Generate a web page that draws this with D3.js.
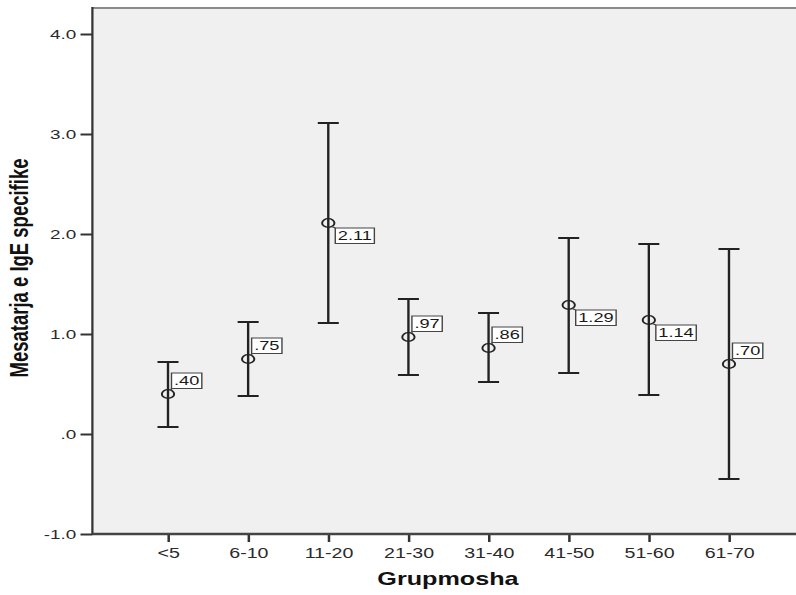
<!DOCTYPE html>
<html>
<head>
<meta charset="utf-8">
<script src="https://cdn.jsdelivr.net/npm/d3@7"></script>
<style>
  html, body { margin: 0; padding: 0; background: #fff; }
  svg { display: block; }
  text { font-family: "Liberation Sans", Arial, sans-serif; }
</style>
</head>
<body>
<svg id="chart" width="796" height="595"></svg>
<script>
// Age groups and the mean specific IgE with its error-bar limits
const categories = ["<5", "6-10", "11-20", "21-30", "31-40", "41-50", "51-60", "61-70"];
const means      = [0.40, 0.75, 2.11, 0.97, 0.86, 1.29, 1.14, 0.70];
const lowers     = [0.07, 0.38, 1.11, 0.59, 0.52, 0.61, 0.39, -0.45];
const uppers     = [0.72, 1.12, 3.11, 1.35, 1.21, 1.96, 1.90, 1.85];
const yTicks     = [-1, 0, 1, 2, 3, 4];
const yTickLabels = ["-1.0", ".0", "1.0", "2.0", "3.0", "4.0"];
const meanLabels = [".40", ".75", "2.11", ".97", ".86", "1.29", "1.14", ".70"];

// The chart is drawn in a narrower frame and widened horizontally
const SX = 1.4;
const plot = { left: 66, right: 580, top: 7, bottom: 534 };

const svg = d3.select("#chart");
const g = svg.append("g").attr("transform", `scale(${SX},1)`);

const y = d3.scaleLinear().domain([-1, 4]).range([534, 34]);
const x = d3.scalePoint().domain(categories).range([120, 520.7]);

// Plot background and frame
g.append("rect")
  .attr("x", plot.left).attr("y", plot.top)
  .attr("width", plot.right - plot.left).attr("height", plot.bottom - plot.top)
  .attr("fill", "#f0f0f0");
g.append("line")
  .attr("x1", plot.left).attr("x2", plot.right)
  .attr("y1", plot.top + 1).attr("y2", plot.top + 1)
  .attr("stroke", "#8a8a8a").attr("stroke-width", 2);

// Y axis
const yAxis = g.append("g").attr("transform", `translate(${plot.left},0)`)
  .call(d3.axisLeft(y).tickValues(yTicks).tickSize(8.5).tickPadding(3)
    .tickFormat((d, i) => yTickLabels[i]));
yAxis.select(".domain").remove();
yAxis.selectAll(".tick line").attr("stroke", "#333").attr("stroke-width", 2);
yAxis.selectAll(".tick text").attr("font-size", 13.5).attr("fill", "#2a2a2a")
  .attr("font-family", "Liberation Sans, Arial, sans-serif");
g.append("line")
  .attr("x1", plot.left).attr("x2", plot.left)
  .attr("y1", plot.top).attr("y2", plot.bottom + 1)
  .attr("stroke", "#333").attr("stroke-width", 1.6);

// X axis
const xAxis = g.append("g").attr("transform", `translate(0,${plot.bottom})`)
  .call(d3.axisBottom(x).tickSize(8).tickPadding(6));
xAxis.select(".domain").remove();
xAxis.selectAll(".tick line").attr("stroke", "#333").attr("stroke-width", 1.8);
xAxis.selectAll(".tick text").attr("font-size", 14).attr("fill", "#2a2a2a")
  .attr("font-family", "Liberation Sans, Arial, sans-serif");
g.append("line")
  .attr("x1", plot.left).attr("x2", plot.right)
  .attr("y1", plot.bottom).attr("y2", plot.bottom)
  .attr("stroke", "#444").attr("stroke-width", 2.5);

// Error bars
const rows = categories.map((c, i) => ({ c, m: means[i], lo: lowers[i], hi: uppers[i], label: meanLabels[i] }));
const bars = g.append("g").selectAll("g").data(rows).join("g");
bars.append("line")
  .attr("x1", d => x(d.c)).attr("x2", d => x(d.c))
  .attr("y1", d => y(d.hi)).attr("y2", d => y(d.lo))
  .attr("stroke", "#222").attr("stroke-width", 1.7);
[d => d.hi, d => d.lo].forEach(acc => {
  bars.append("line")
    .attr("x1", d => x(d.c) - 7.5).attr("x2", d => x(d.c) + 7.5)
    .attr("y1", d => y(acc(d))).attr("y2", d => y(acc(d)))
    .attr("stroke", "#222").attr("stroke-width", 2);
});
bars.append("circle")
  .attr("cx", d => x(d.c)).attr("cy", d => y(d.m)).attr("r", 4.4)
  .attr("fill", "none").attr("stroke", "#222").attr("stroke-width", 1.4);

// Mean value labels in boxes
bars.each(function (d) {
  const sel = d3.select(this);
  const above = d.m < 1;
  const px = x(d.c), py = y(d.m);
  const bx = px + (above ? 2.5 : 5);
  const bh = 15.5;
  const by = above ? py - 21 : py + 5;
  const t = sel.append("text")
    .attr("x", bx + 1.8).attr("y", by + bh - 3.5)
    .attr("font-size", 13).attr("fill", "#1a1a1a")
    .text(d.label);
  const tw = t.node().getComputedTextLength();
  sel.insert("rect", "text")
    .attr("x", bx).attr("y", by).attr("width", tw + 3.6).attr("height", bh)
    .attr("fill", "#fff").attr("stroke", "#444").attr("stroke-width", 1);
  sel.append("line")
    .attr("x1", px + 2.5).attr("y1", above ? py - 3.5 : py + 3.5)
    .attr("x2", bx).attr("y2", above ? by + bh : by)
    .attr("stroke", "#444").attr("stroke-width", 1);
});

// Axis titles
g.append("text")
  .attr("x", 320).attr("y", 585)
  .attr("text-anchor", "middle").attr("font-size", 18).attr("font-weight", "bold")
  .attr("fill", "#111").text("Grupmosha");
g.append("text")
  .attr("transform", `translate(${28 / SX},268) rotate(-90)`)
  .attr("text-anchor", "middle").attr("font-size", 18.5).attr("font-weight", "bold")
  .attr("fill", "#111").text("Mesatarja e IgE specifike");
</script>
</body>
</html>
